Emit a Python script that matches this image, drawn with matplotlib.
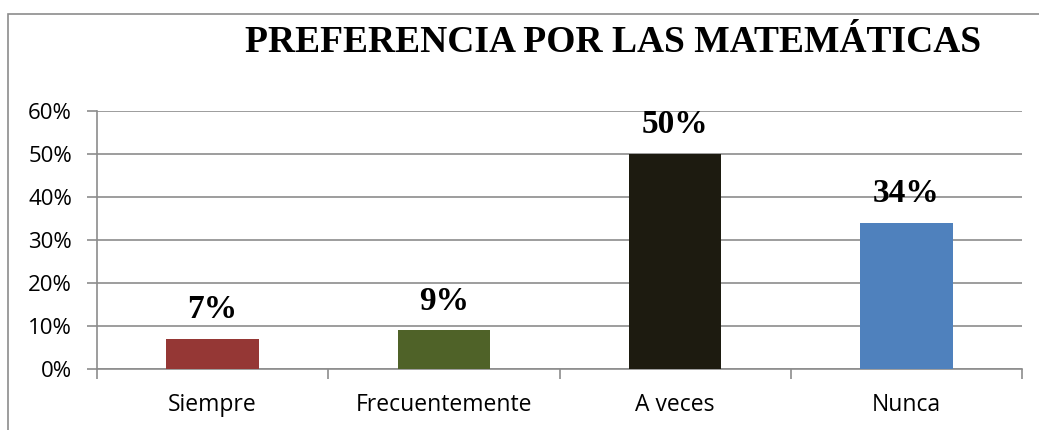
import matplotlib.pyplot as plt
import matplotlib.patches as patches
from matplotlib.ticker import FuncFormatter

categorias = ["Siempre", "Frecuentemente", "A veces", "Nunca"]
valores = [0.07, 0.09, 0.50, 0.34]
etiquetas = ["7%", "9%", "50%", "34%"]
colores = ["#953735", "#4F6228", "#1D1B10", "#4F81BD"]

fig = plt.figure(figsize=(10.39, 4.30), dpi=100)
ax = fig.add_axes([97/1039, 1-369/430, (1022-97)/1039, (369-111)/430])

# marco del grafico
marco = patches.Rectangle((8/1039, -0.1), 1.2, 1.1 - 14/430, transform=fig.transFigure,
                          fill=False, edgecolor="#8c8c8c", linewidth=1.2, clip_on=False)
fig.add_artist(marco)

x = range(len(categorias))
ax.bar(x, valores, width=0.4, color=colores, zorder=3)
for i, v in enumerate(valores):
    ax.annotate(etiquetas[i], (i, v), xytext=(0, 21), textcoords="offset points",
                ha="center", va="center", fontsize=24, fontweight="bold",
                family="Liberation Serif", zorder=4)

ax.set_xlim(-0.5, 3.5)
ax.set_ylim(0, 0.6)
ax.set_yticks([0, 0.1, 0.2, 0.3, 0.4, 0.5, 0.6])
ax.yaxis.set_major_formatter(FuncFormatter(lambda v, p: f"{v*100:.0f}%"))
ax.grid(axis="y", color="#8c8c8c", linewidth=1.2, zorder=0)
ax.set_xticks(list(x))
ax.set_xticklabels(categorias)
ax.set_xticks([-0.5, 0.5, 1.5, 2.5, 3.5], minor=True)
ax.tick_params(axis="x", which="major", length=0, pad=17, labelsize=16.5)
ax.tick_params(axis="x", which="minor", length=7, color="#8c8c8c", width=1.2)
ax.tick_params(axis="y", length=7, color="#8c8c8c", width=1.2, labelsize=16, pad=11)
for lab in ax.get_xticklabels() + ax.get_yticklabels():
    lab.set_family("Open Sans")
for s in ["top", "right"]:
    ax.spines[s].set_visible(False)
for s in ["left", "bottom"]:
    ax.spines[s].set_color("#8c8c8c")
    ax.spines[s].set_linewidth(1.2)

fig.text(613/1039, 1-42/430, "PREFERENCIA POR LAS MATEMÁTICAS", ha="center", va="center",
         fontsize=27, fontweight="bold", family="Liberation Serif")

fig.savefig("out.png", dpi=100)
